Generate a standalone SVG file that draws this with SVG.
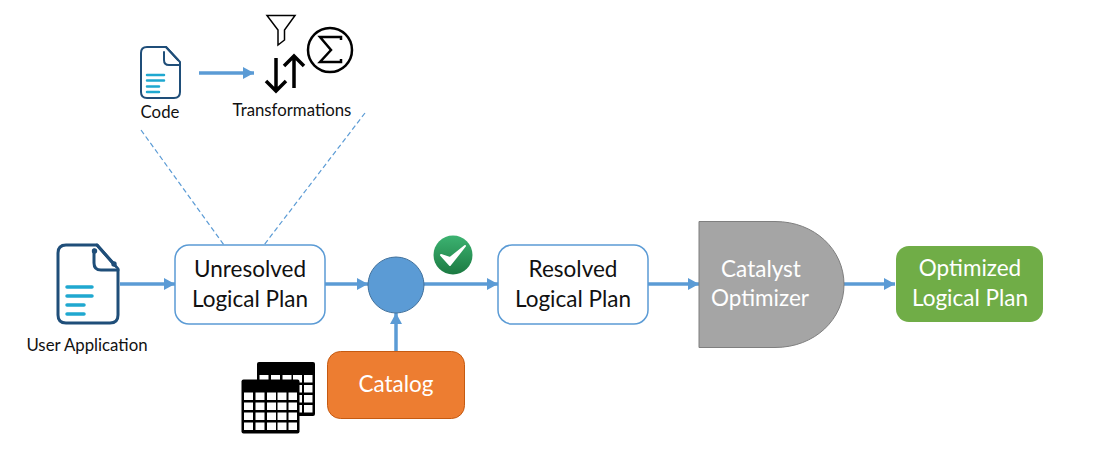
<svg xmlns="http://www.w3.org/2000/svg" width="1105" height="457" viewBox="0 0 1105 457">
<style>
text{font-family:Lato,"Open Sans",sans-serif;text-anchor:middle}
.big{font-size:22.5px;fill:#111}
.wh{font-size:22.5px;fill:#fff}
.sm{font-size:16.8px;fill:#111}
.box{fill:#fff;stroke:#5b9bd5;stroke-width:1.5}
.c{fill:none;stroke:#5b9bd5;stroke-width:3.5}
.d{fill:none;stroke:#5b9bd5;stroke-width:1.2;stroke-dasharray:5 3}
.doc{fill:#fff;stroke:#1f4e79;stroke-linejoin:round;stroke-linecap:round}
.ln{stroke:#1fa8d0;stroke-linecap:round}
.k{fill:none;stroke:#000;stroke-width:3.500}
</style>
<defs>
<marker id="a" markerUnits="userSpaceOnUse" markerWidth="13" markerHeight="13" refX="11" refY="6" orient="auto"><path d="M0 0L11 6L0 12Z" fill="#5b9bd5"/></marker>
<g id="grid">
<rect x="0" y="0" width="58" height="54" rx="2" fill="#000"/>
<g fill="#fff"><rect x="2.500" y="13" width="9" height="7.500"/><rect x="14" y="13" width="9" height="7.500"/><rect x="25.500" y="13" width="9" height="7.500"/><rect x="36" y="13" width="9" height="7.500"/><rect x="47" y="13" width="8.500" height="7.500"/>
<rect x="2.500" y="23" width="9" height="7.500"/><rect x="14" y="23" width="9" height="7.500"/><rect x="25.500" y="23" width="9" height="7.500"/><rect x="36" y="23" width="9" height="7.500"/><rect x="47" y="23" width="8.500" height="7.500"/>
<rect x="2.500" y="33" width="9" height="7.500"/><rect x="14" y="33" width="9" height="7.500"/><rect x="25.500" y="33" width="9" height="7.500"/><rect x="36" y="33" width="9" height="7.500"/><rect x="47" y="33" width="8.500" height="7.500"/>
<rect x="2.500" y="43" width="9" height="7.500"/><rect x="14" y="43" width="9" height="7.500"/><rect x="25.500" y="43" width="9" height="7.500"/><rect x="36" y="43" width="9" height="7.500"/><rect x="47" y="43" width="8.500" height="7.500"/></g>
</g>
<linearGradient id="gc" x1="0" y1="0" x2="0" y2="1"><stop offset="0" stop-color="#3cb371"/><stop offset="1" stop-color="#1c7a42"/></linearGradient>
</defs>
<g id="connectors">
<path class="c" d="M199 73H254" marker-end="url(#a)"/>
<path class="c" d="M120 284H175" marker-end="url(#a)"/>
<path class="c" d="M325 284H368" marker-end="url(#a)"/>
<path class="c" d="M424 284H498" marker-end="url(#a)"/>
<path class="c" d="M396 352V313" marker-end="url(#a)"/>
<path class="c" d="M648 284H699" marker-end="url(#a)"/>
<path class="c" d="M844 284H895" marker-end="url(#a)"/>
<path class="d" d="M141 130L224 245"/>
<path class="d" d="M365 113L264 245"/>
</g>
<g id="code">
<path class="doc" stroke-width="2" d="M147 47H166L180 62V92Q180 98 174 98H147Q141 98 141 92V53Q141 47 147 47Z"/>
<path class="doc" stroke-width="2" d="M164 52V60Q164 65 169 65H180M166 47L178 60"/>
<path class="ln" stroke-width="2.500" d="M147 75H164M147 80.500H164M147 86.500H159M147 92H159"/>
<text class="sm" x="160" y="118">Code</text>
</g>
<g id="transformations">
<path d="M267 15.500H295L284.500 30V40L278 45V30Z" fill="none" stroke="#000" stroke-width="1.500" stroke-linejoin="miter"/>
<path class="k" d="M276 58V91M266 81L276 91L286 81"/>
<path class="k" d="M294 88V56M284 66L294 56L304 66"/>
<circle cx="330" cy="50" r="22" fill="none" stroke="#000" stroke-width="2.500"/>
<path d="M341 40V37H320L331 50L320 62H341V59" fill="none" stroke="#000" stroke-width="2.500"/>
<text class="sm" x="292" y="116">Transformations</text>
</g>
<g id="user-application">
<path class="doc" stroke-width="3" d="M66 245H97L118 269V315Q118 323 110 323H66Q58 323 58 315V253Q58 245 66 245Z"/>
<path class="doc" stroke-width="3" d="M94 250V263Q94 270 101 270H118M97 245L114 264"/>
<circle cx="94.500" cy="251" r="2.700" fill="#1f4e79"/><circle cx="114" cy="264" r="2.700" fill="#1f4e79"/>
<path class="ln" stroke-width="3.500" d="M67 287H92M67 296H92M67 305H84M67 314H84"/>
<text class="sm" x="87" y="351">User Application</text>
</g>
<g id="unresolved">
<rect class="box" x="175" y="245" width="150" height="79" rx="14"/>
<text class="big" x="250" y="277">Unresolved</text>
<text class="big" x="250" y="307">Logical Plan</text>
</g>
<g id="join">
<circle cx="396" cy="285" r="28" fill="#5b9bd5" stroke="#41719c" stroke-width="1"/>
</g>
<g id="check">
<circle cx="453" cy="255" r="19.500" fill="url(#gc)"/>
<path d="M441 255L450 265L465 246L450 258Z" fill="#fff" stroke="#fff" stroke-width="2" stroke-linejoin="round"/>
</g>
<g id="resolved">
<rect class="box" x="498" y="245" width="150" height="79" rx="14"/>
<text class="big" x="573" y="277">Resolved</text>
<text class="big" x="573" y="307">Logical Plan</text>
</g>
<g id="catalog">
<rect x="327.500" y="351.500" width="137" height="67" rx="13" fill="#ed7d31" stroke="#c55a11" stroke-width="1"/>
<text class="wh" x="396" y="392">Catalog</text>
</g>
<g id="tables">
<use href="#grid" x="257" y="362"/>
<use href="#grid" x="241.500" y="379.500"/>
</g>
<g id="catalyst">
<path d="M699 221.500H775C815 221.500 844 250 844 284.500C844 319 815 347.500 775 347.500H699Z" fill="#a5a5a5" stroke="#7f7f7f" stroke-width="1"/>
<text class="wh" x="761" y="277">Catalyst</text>
<text class="wh" x="760" y="306">Optimizer</text>
</g>
<g id="optimized">
<rect x="896" y="246" width="147" height="76" rx="13" fill="#70ad47"/>
<text class="wh" x="970" y="276">Optimized</text>
<text class="wh" x="970" y="306">Logical Plan</text>
</g>
</svg>
